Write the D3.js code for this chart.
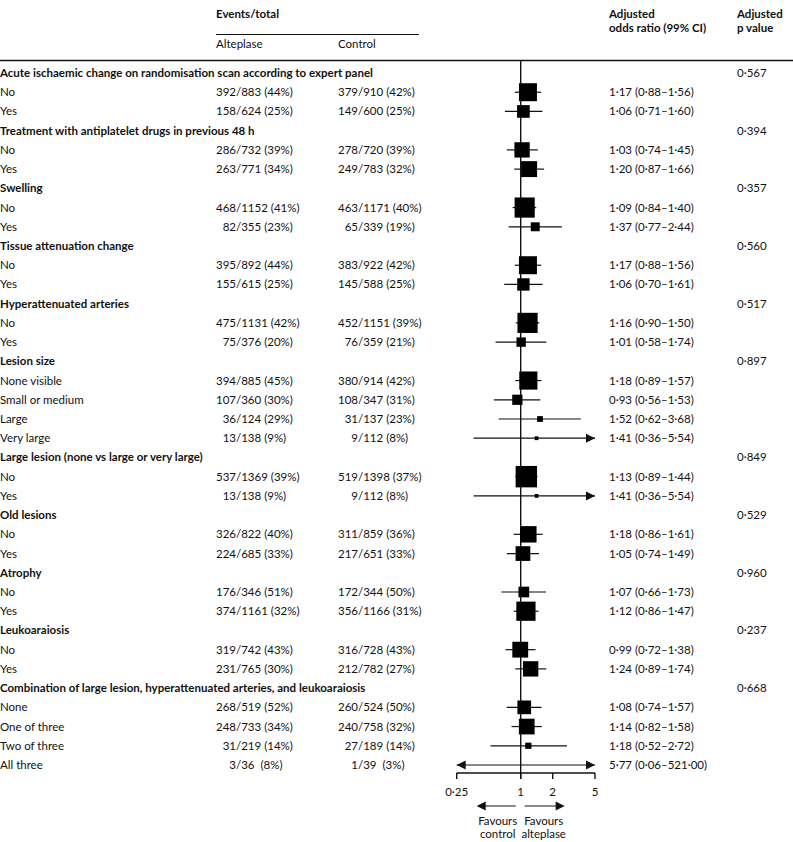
<!DOCTYPE html>
<html><head><meta charset="utf-8">
<script src="https://cdn.jsdelivr.net/npm/d3@7"></script>
<style>
body{margin:0;background:#fff;}
svg text{font-family:Lato,"Noto Sans",sans-serif;font-size:11.5px;fill:#111;white-space:pre;}
.b{font-weight:bold;}
</style></head>
<body><svg id="c" width="793" height="842"></svg>
<script>
// ---------- DATA ----------
const groupTitles = [
  "Acute ischaemic change on randomisation scan according to expert panel",
  "Treatment with antiplatelet drugs in previous 48 h",
  "Swelling",
  "Tissue attenuation change",
  "Hyperattenuated arteries",
  "Lesion size",
  "Large lesion (none vs large or very large)",
  "Old lesions",
  "Atrophy",
  "Leukoaraiosis",
  "Combination of large lesion, hyperattenuated arteries, and leukoaraiosis"
];
const groupPValues = ["0·567","0·394","0·357","0·560","0·517","0·897","0·849","0·529","0·960","0·237","0·668"];
const groupSizes = [2,2,2,2,2,4,2,2,2,2,4];
const subgroupLabels = [
  "No","Yes","No","Yes","No","Yes","No","Yes","No","Yes",
  "None visible","Small or medium","Large","Very large",
  "No","Yes","No","Yes","No","Yes","No","Yes",
  "None","One of three","Two of three","All three"
];
const alteplaseEvents = [392,158,286,263,468,82,395,155,475,75,394,107,36,13,537,13,326,224,176,374,319,231,268,248,31,3];
const alteplaseTotal  = [883,624,732,771,1152,355,892,615,1131,376,885,360,124,138,1369,138,822,685,346,1161,742,765,519,733,219,36];
const alteplasePct    = [44,25,39,34,41,23,44,25,42,20,45,30,29,9,39,9,40,33,51,32,43,30,52,34,14,8];
const controlEvents   = [379,149,278,249,463,65,383,145,452,76,380,108,31,9,519,9,311,217,172,356,316,212,260,240,27,1];
const controlTotal    = [910,600,720,783,1171,339,922,588,1151,359,914,347,137,112,1398,112,859,651,344,1166,728,782,524,758,189,39];
const controlPct      = [42,25,39,32,40,19,42,25,39,21,42,31,23,8,37,8,36,33,50,31,43,27,50,32,14,3];
const oddsRatio = [1.17,1.06,1.03,1.20,1.09,1.37,1.17,1.06,1.16,1.01,1.18,0.93,1.52,1.41,1.13,1.41,1.18,1.05,1.07,1.12,0.99,1.24,1.08,1.14,1.18,5.77];
const ciLow     = [0.88,0.71,0.74,0.87,0.84,0.77,0.88,0.70,0.90,0.58,0.89,0.56,0.62,0.36,0.89,0.36,0.86,0.74,0.66,0.86,0.72,0.89,0.74,0.82,0.52,0.06];
const ciHigh    = [1.56,1.60,1.45,1.66,1.40,2.44,1.56,1.61,1.50,1.74,1.57,1.53,3.68,5.54,1.44,5.54,1.61,1.49,1.73,1.47,1.38,1.74,1.57,1.58,2.72,521.00];
const axisTicks = [0.25,1,2,5];
const axisTickLabels = ["0·25","1","2","5"];

// ---------- BUILD ROWS ----------
const rows = [];
let k = 0;
groupTitles.forEach((t,g)=>{
  rows.push({type:"h", label:t, p:groupPValues[g]});
  for(let j=0;j<groupSizes[g];j++,k++) rows.push({type:"s", i:k, label:subgroupLabels[k]});
});

const dot = v => v.toFixed(2).replace(".","·");
const svg = d3.select("#c");

const y = d3.scalePoint().domain(d3.range(rows.length)).range([73,765]);
const x = d3.scaleLog().domain([0.25,5]).range([456.7,595]);

const colLabel = 0, colAltSlash = 236, colCtlSlash = 358, colOR = 609, colP = 737;

// header
svg.append("text").attr("class","b").attr("x",216).attr("y",18).text("Events/total");
svg.append("line").attr("x1",216).attr("x2",419).attr("y1",34.5).attr("y2",34.5).attr("stroke","#111").attr("stroke-width",1);
svg.append("text").attr("x",216).attr("y",48).text("Alteplase");
svg.append("text").attr("x",338).attr("y",48).text("Control");
svg.append("text").attr("class","b").attr("x",colOR).attr("y",18).text("Adjusted");
svg.append("text").attr("class","b").attr("x",colOR).attr("y",32).text("odds ratio (99% CI)");
svg.append("text").attr("class","b").attr("x",colP).attr("y",18).text("Adjusted");
svg.append("text").attr("class","b").attr("x",colP).attr("y",32).text("p value");
svg.append("line").attr("x1",0).attr("x2",793).attr("y1",60.5).attr("y2",60.5).attr("stroke","#111").attr("stroke-width",1.3);

// central line
svg.append("line").attr("x1",x(1)).attr("x2",x(1)).attr("y1",60).attr("y2",779).attr("stroke","#111").attr("stroke-width",1.4);

const rg = svg.selectAll("g.row").data(rows).join("g").attr("class","row")
  .attr("transform",(d,i)=>`translate(0,${y(i)})`);

rg.append("text").attr("class",d=>d.type==="h"?"b":null).attr("x",colLabel).attr("y",4).text(d=>d.label);
rg.filter(d=>d.type==="h").append("text").attr("x",colP).attr("y",4).text(d=>d.p);

const sg = rg.filter(d=>d.type==="s");
function events(sel, slashX, ev, tot, pct){
  sel.append("text").attr("x",slashX).attr("y",4).attr("text-anchor","end").text(d=>ev[d.i]);
  sel.append("text").attr("x",slashX).attr("y",4)
    .text(d=>"/"+tot[d.i]+(tot[d.i]<100?"  ":" ")+"("+pct[d.i]+"%)");
}
events(sg, colAltSlash, alteplaseEvents, alteplaseTotal, alteplasePct);
events(sg, colCtlSlash, controlEvents, controlTotal, controlPct);
sg.append("text").attr("x",colOR).attr("y",4)
  .text(d=>dot(oddsRatio[d.i])+" ("+dot(ciLow[d.i])+"–"+dot(ciHigh[d.i])+")");

// CI lines
const [dLo,dHi] = x.domain();
sg.append("line")
  .attr("x1",d=>x(Math.max(ciLow[d.i],dLo))).attr("x2",d=>x(Math.min(ciHigh[d.i],dHi)))
  .attr("y1",0).attr("y2",0).attr("stroke","#111").attr("stroke-width",1.2);
// arrows
sg.filter(d=>ciHigh[d.i]>dHi).append("path")
  .attr("d",`M${x(dHi)},0 l-9,-4.5 l0,9 z`).attr("fill","#111");
sg.filter(d=>ciLow[d.i]<dLo).append("path")
  .attr("d",`M${x(dLo)},0 l9,-4.5 l0,9 z`).attr("fill","#111");
// squares (area ∝ inverse variance), only when the estimate is inside the axis
const side = d => 10.3/Math.log(ciHigh[d.i]/ciLow[d.i]);
sg.filter(d=>oddsRatio[d.i]>=dLo && oddsRatio[d.i]<=dHi).append("rect")
  .attr("width",side).attr("height",side)
  .attr("x",d=>x(oddsRatio[d.i])-side(d)/2)
  .attr("y",d=>-side(d)/2)
  .attr("fill","#000");

// axis
const ax = svg.append("g").attr("transform","translate(0,773)");
ax.append("line").attr("x1",x(dLo)).attr("x2",x(dHi)).attr("stroke","#111").attr("stroke-width",1.4);
ax.selectAll("line.t").data(axisTicks).join("line").attr("class","t")
  .attr("x1",d=>x(d)).attr("x2",d=>x(d)).attr("y1",0).attr("y2",6).attr("stroke","#111").attr("stroke-width",1.4);
ax.selectAll("text").data(axisTicks).join("text").attr("x",d=>x(d)).attr("y",23).attr("text-anchor","middle")
  .text((d,i)=>axisTickLabels[i]);

// favours
const fy = 806, c1 = x(1);
svg.append("line").attr("x1",c1-5).attr("x2",c1-38).attr("y1",fy).attr("y2",fy).attr("stroke","#111").attr("stroke-width",1.2);
svg.append("path").attr("d",`M${c1-44},${fy} l9,-4.5 l0,9 z`).attr("fill","#111");
svg.append("line").attr("x1",c1+4).attr("x2",c1+38).attr("y1",fy).attr("y2",fy).attr("stroke","#111").attr("stroke-width",1.2);
svg.append("path").attr("d",`M${c1+44},${fy} l-9,-4.5 l0,9 z`).attr("fill","#111");
svg.append("text").attr("x",c1-23).attr("y",825).attr("text-anchor","middle").text("Favours");
svg.append("text").attr("x",c1-23).attr("y",838).attr("text-anchor","middle").text("control");
svg.append("text").attr("x",c1+23).attr("y",825).attr("text-anchor","middle").text("Favours");
svg.append("text").attr("x",c1+23).attr("y",838).attr("text-anchor","middle").text("alteplase");
</script></body></html>
